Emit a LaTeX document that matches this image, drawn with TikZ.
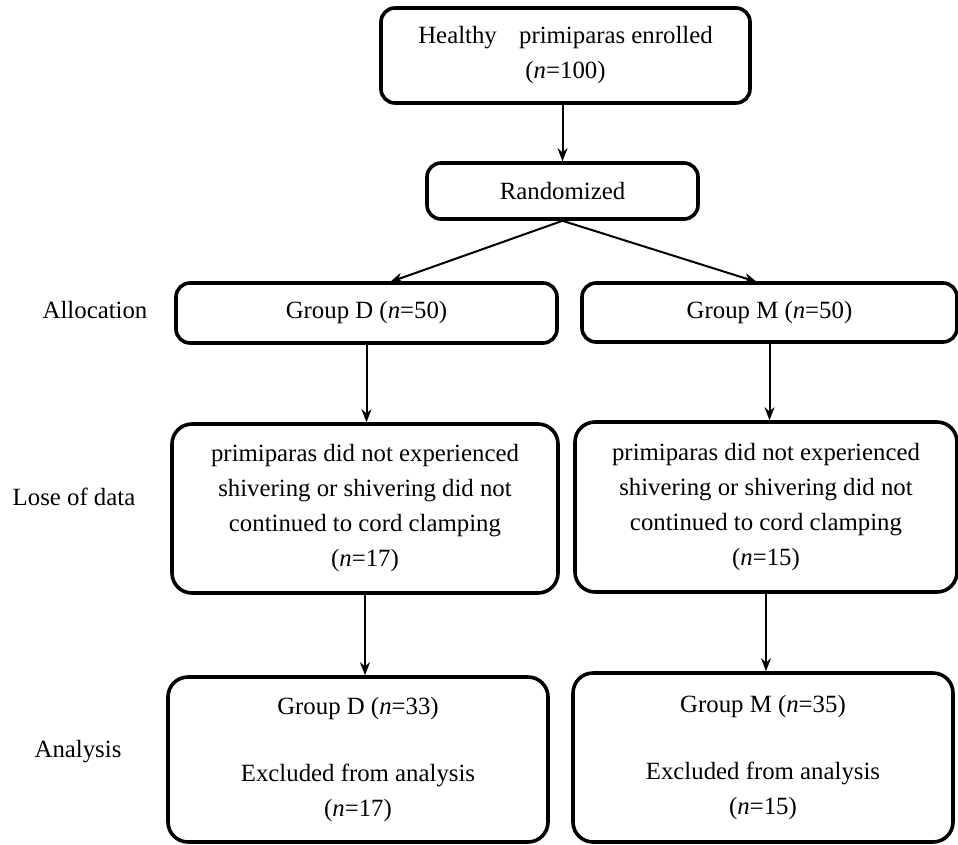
\documentclass[tikz,border=0pt]{standalone}
\usepackage{fontspec}
\setmainfont{Liberation Serif}
\usetikzlibrary{arrows.meta}
\begin{document}
\begin{tikzpicture}[x=1pt,y=-1pt,
  box/.style={draw, line width=3.6pt, rounded corners=14pt, align=center,
    font=\fontsize{24.8}{35}\selectfont, inner sep=0pt},
  bigbox/.style={box, rounded corners=20pt},
  lab/.style={font=\fontsize{24.8}{35}\selectfont, inner sep=0pt},
  arr/.style={line width=2pt, -{Stealth[length=13pt,width=10pt]}}]
\useasboundingbox (0,0) rectangle (958,844);
\fill[white] (0,0) rectangle (958,844);

\node[box, minimum width=369pt, minimum height=95pt] (h) at (565.5,55.5)
  {Healthy\hspace{0.9em}primiparas enrolled\\(\textit{n}=100)};
\node[box, minimum width=271pt, minimum height=56pt] (r) at (562.5,191) {Randomized};

\node[box, minimum width=381pt, minimum height=60pt] (gD) at (366.5,313) {Group D (\textit{n}=50)};
\node[box, minimum width=375pt, minimum height=59pt] (gM) at (769.5,312.5) {Group M (\textit{n}=50)};

\node[bigbox, minimum width=386pt, minimum height=169pt] (lD) at (365,508.5)
  {primiparas did not experienced\\shivering or shivering did not\\continued to cord clamping\\(\textit{n}=17)};
\node[bigbox, minimum width=382pt, minimum height=170pt] (lM) at (766,507)
  {primiparas did not experienced\\shivering or shivering did not\\continued to cord clamping\\(\textit{n}=15)};

\node[bigbox, minimum width=380pt, minimum height=165pt] (aD) at (358,759.5)
  {Group D (\textit{n}=33)\\[32pt]Excluded from analysis\\(\textit{n}=17)};
\node[bigbox, minimum width=380pt, minimum height=169pt] (aM) at (763,757.5)
  {Group M (\textit{n}=35)\\[32pt]Excluded from analysis\\(\textit{n}=15)};

\node[lab] (l1) at (95,310) {Allocation};
\node[lab] (l2) at (74,497) {Lose of data};
\node[lab] (l3) at (78,752) {Analysis};

\coordinate (tD) at (390,282);
\coordinate (tM) at (757,282);

\draw[arr] (r.north |- h.south) -- (r.north);
\draw[arr] (r.south) -- (tD);
\draw[arr] (r.south) -- (tM);
\draw[arr] (gD.south) -- (gD.south |- lD.north);
\draw[arr] (gM.south) -- (gM.south |- lM.north);
\draw[arr] (lD.south) -- (lD.south |- aD.north);
\draw[arr] (lM.south) -- (lM.south |- aM.north);
\end{tikzpicture}
\end{document}
